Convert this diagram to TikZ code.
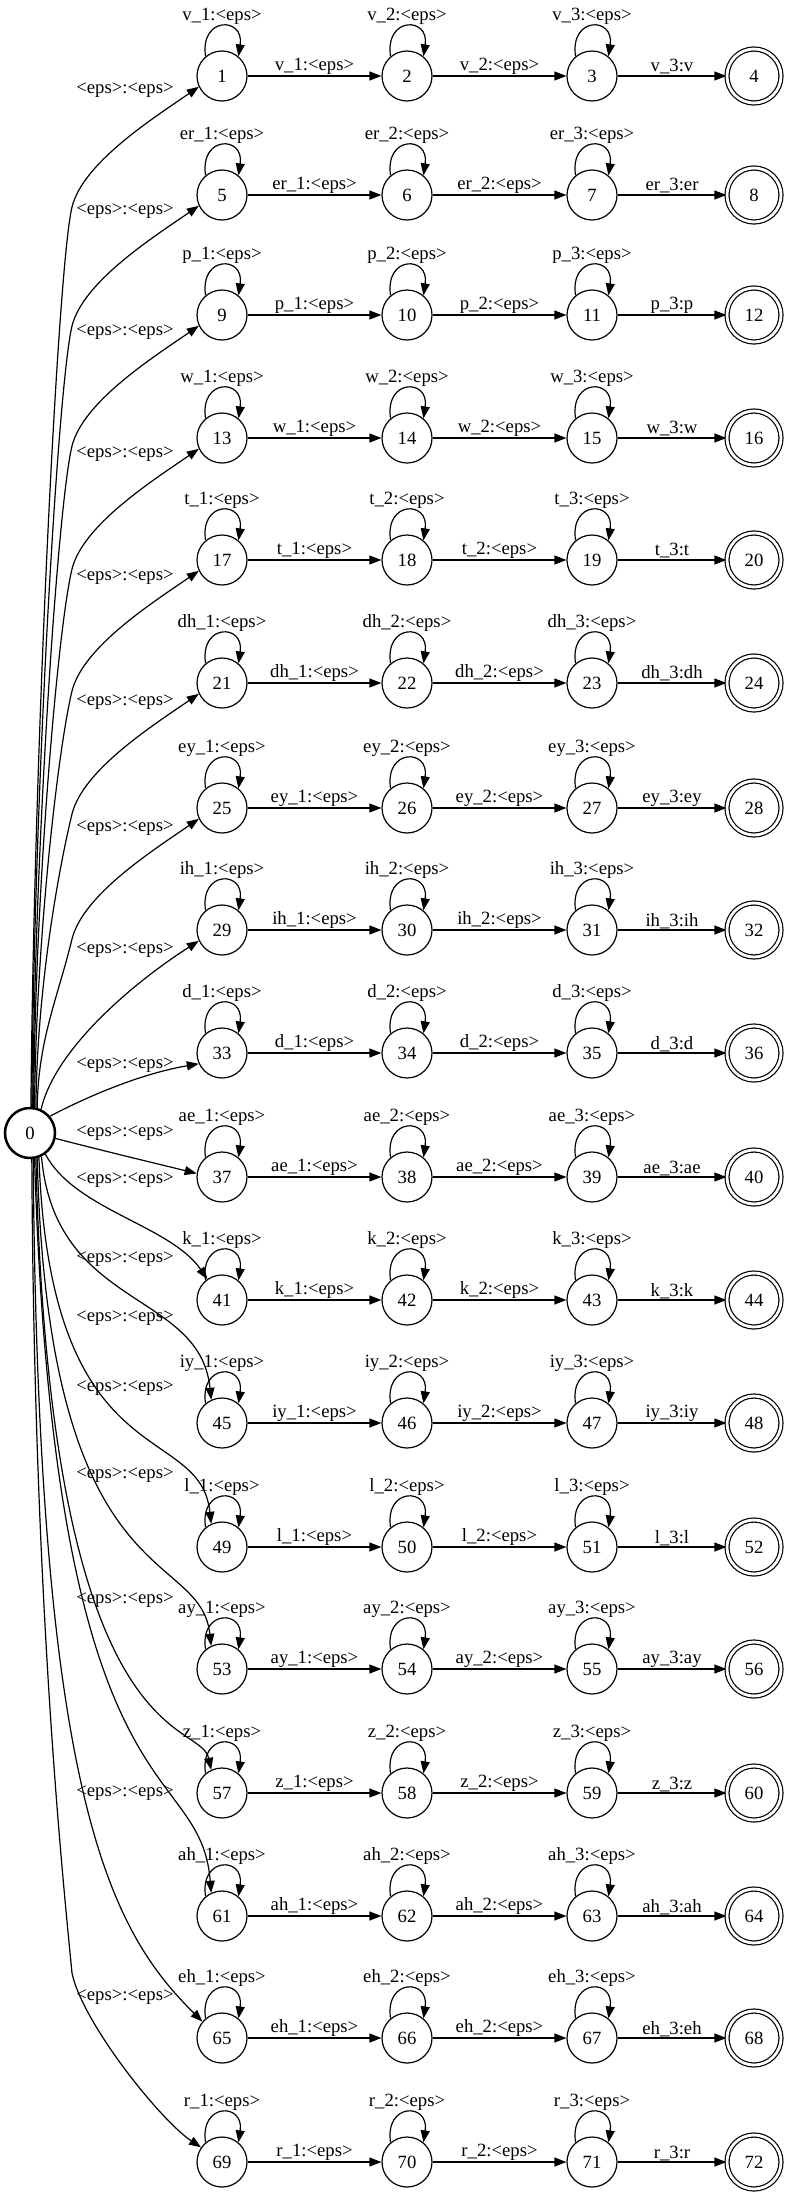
\documentclass[tikz,border=0pt]{standalone}
\usepackage{fontspec}
\setmainfont{Liberation Serif}
\usetikzlibrary{arrows.meta}

\begin{document}
\begin{tikzpicture}[x=1pt,y=-1pt,
        every node/.style={font=\fontsize{18.7}{22}\selectfont},
        state/.style={circle,draw,line width=1.2pt,minimum size=50pt,inner sep=0pt},
        final/.style={state,minimum size=54pt,double,double distance=2.8pt},
        start/.style={state,line width=2.5pt},
        arc/.style={line width=1.2pt,-{Triangle[length=12pt,width=9pt]}},
        lbl/.style={inner sep=1pt}]
        \useasboundingbox (0,0) rectangle (791,2200);
        \node[start] (s0) at (30,1133) {0};
        % one chain of four states per phone
        \foreach \ph/\yy [count=\i] in {v/76,er/195,p/315,w/438,t/560,dh/683,ey/808,ih/930,d/1053,ae/1177,k/1300,iy/1423,l/1547,ay/1669,z/1793,ah/1916,eh/2038,r/2162}{
            \pgfmathtruncatemacro\na{4*\i-3}
            \pgfmathtruncatemacro\nb{4*\i-2}
            \pgfmathtruncatemacro\nc{4*\i-1}
            \pgfmathtruncatemacro\nd{4*\i}
            \node[state] (s\na) at (222,\yy) {\na};
            \node[state] (s\nb) at (407,\yy) {\nb};
            \node[state] (s\nc) at (592,\yy) {\nc};
            \node[final] (s\nd) at (754,\yy) {\nd};
            \draw[arc] (s\na.130) .. controls +(-6,-40) and +(6,-40) .. node[lbl,above] {\ph\_1:<eps>} (s\na.50);
            \draw[arc] (s\nb.130) .. controls +(-6,-40) and +(6,-40) .. node[lbl,above] {\ph\_2:<eps>} (s\nb.50);
            \draw[arc] (s\nc.130) .. controls +(-6,-40) and +(6,-40) .. node[lbl,above] {\ph\_3:<eps>} (s\nc.50);
            \draw[arc] (s\na) -- node[lbl,above] {\ph\_1:<eps>} (s\nb);
            \draw[arc] (s\nb) -- node[lbl,above] {\ph\_2:<eps>} (s\nc);
            \draw[arc] (s\nc) -- node[lbl,above] {\ph\_3:\ph} (s\nd);
        }
        % arcs out of the start state
        \draw[arc] (s0.88) .. controls (34,748) and (58,265) .. (72,207) .. controls (83,163) and (152,119) .. (s1.205);
        \draw[arc] (s0.86) .. controls (34,795) and (58,384) .. (72,326) .. controls (83,282) and (152,238) .. (s5.205);
        \draw[arc] (s0.84) .. controls (35,843) and (58,504) .. (72,446) .. controls (83,402) and (152,358) .. (s9.205);
        \draw[arc] (s0.82) .. controls (35,892) and (58,627) .. (72,569) .. controls (83,525) and (152,481) .. (s13.205);
        \draw[arc] (s0.80) .. controls (36,941) and (58,749) .. (72,691) .. controls (83,647) and (152,603) .. (s17.205);
        \draw[arc] (s0.77) .. controls (37,990) and (58,872) .. (72,814) .. controls (83,770) and (152,726) .. (s21.205);
        \draw[arc] (s0.74) .. controls (38,1040) and (58,997) .. (72,939) .. controls (83,895) and (152,851) .. (s25.205);
        \draw[arc] (s0.65) .. controls (55,1050) and (130,985) .. (s29.205);
        \draw[arc] (s0.40) .. controls (100,1090) and (150,1072) .. (s33.205);
        \draw[arc] (s0.-12) .. controls (100,1150) and (150,1162) .. (s37.172);
        \draw[arc] (s0.-54) .. controls (75,1210) and (170,1225) .. (s41.125);
        \draw[arc] (s0.-64) .. controls (55,1310) and (200,1290) .. (s45.115);
        \draw[arc] (s0.-70) .. controls (50,1480) and (200,1420) .. (s49.115);
        \draw[arc] (s0.-74) .. controls (48,1600) and (200,1546) .. (s53.115);
        \draw[arc] (s0.-77) .. controls (50,1760) and (200,1718) .. (s57.115);
        \draw[arc] (s0.-80) .. controls (55,1830) and (200,1754) .. (s61.115);
        \draw[arc] (s0.-83) .. controls (38,1800) and (110,1930) .. (s65.140);
        \draw[arc] (s0.-86) .. controls (34,1600) and (62,1870) .. (72,1973) .. controls (82,2022) and (160,2120) .. (s69.145);
        \foreach \ly [count=\j] in {90,211,332,454,577,702,828,950,1065,1133,1180,1259,1318,1388,1475,1600,1793,1997}
            \node[lbl] (e\j) at (125,\ly) {<eps>:<eps>};
    \end{tikzpicture}
\end{document}
